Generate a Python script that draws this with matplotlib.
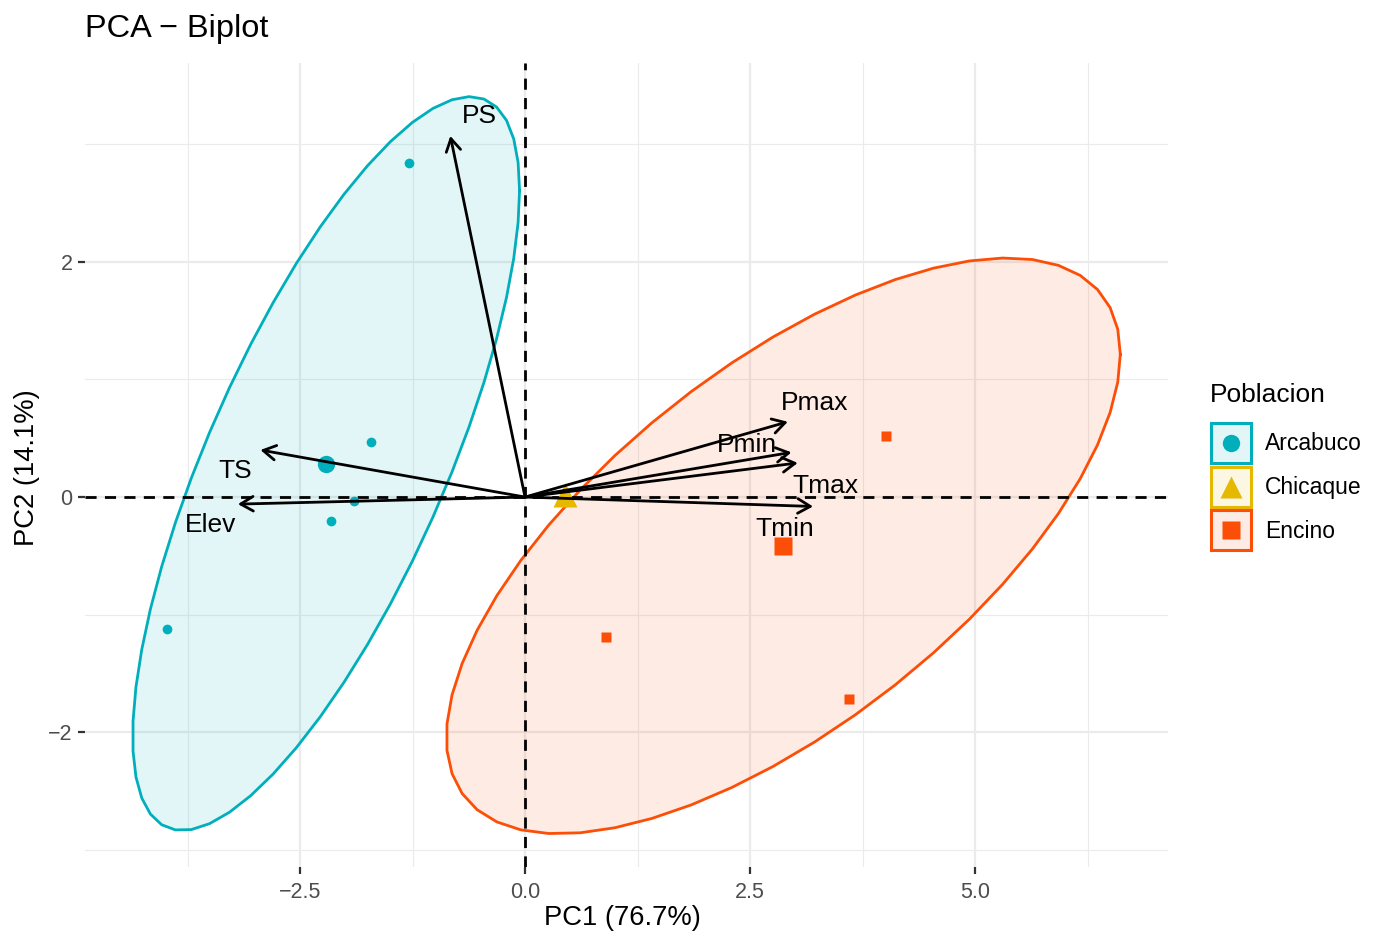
import numpy as np
import matplotlib
matplotlib.use("Agg")
import matplotlib.pyplot as plt
from matplotlib.patches import FancyArrowPatch, Rectangle

plt.rcParams['font.family'] = ['Liberation Sans', 'DejaVu Sans']

# ---------------- data ----------------
groups = ["Arcabuco", "Chicaque", "Encino"]
group_colors = ["#00AFBB", "#E7B800", "#FC4E07"]
group_markers = ["o", "^", "s"]

arc_pc1 = [-1.29, -1.71, -1.90, -2.16, -3.98]
arc_pc2 = [2.84, 0.47, -0.03, -0.20, -1.12]
chi_pc1 = [0.44]
chi_pc2 = [0.02]
enc_pc1 = [0.90, 3.60, 4.01]
enc_pc2 = [-1.19, -1.72, 0.52]

mean_pc1 = [-2.21, 0.44, 2.87]
mean_pc2 = [0.285, 0.02, -0.415]

# ellipse covariance (scaled, 95% normal ellipse) per group
arc_cov = [[4.62, 4.99], [4.99, 9.73]]
enc_cov = [[14.02, 6.10], [6.10, 5.99]]

var_names = ["PS", "TS", "Elev", "Pmax", "Pmin", "Tmax", "Tmin"]
var_pc1 = [-0.83, -2.94, -3.19, 2.92, 2.96, 3.03, 3.20]
var_pc2 = [3.07, 0.40, -0.06, 0.64, 0.38, 0.29, -0.08]
label_pc1 = [-0.51, -3.22, -3.49, 3.22, 2.47, 3.34, 2.89]
label_pc2 = [3.24, 0.22, -0.24, 0.80, 0.44, 0.09, -0.27]

x_ticks = [-2.5, 0.0, 2.5, 5.0]
x_ticklabels = ["\u22122.5", "0.0", "2.5", "5.0"]
y_ticks = [-2, 0, 2]
y_ticklabels = ["\u22122", "0", "2"]

# ---------------- figure ----------------
W, H = 1377, 933
fig = plt.figure(figsize=(W / 100, H / 100), dpi=100)
ax = fig.add_axes([85 / W, 1 - 867 / H, (1168 - 85) / W, (867 - 63) / H])

ax.set_xlim(-4.889, 7.144)
ax.set_ylim(-3.145, 3.69)

for s in ax.spines.values():
    s.set_visible(False)

ax.set_xticks(x_ticks)
ax.set_xticklabels(x_ticklabels)
ax.set_yticks(y_ticks)
ax.set_yticklabels(y_ticklabels)
ax.set_xticks([-3.75, -1.25, 1.25, 3.75, 6.25], minor=True)
ax.set_yticks([-3, -1, 1, 3], minor=True)
ax.tick_params(which="major", length=5, width=1.6, color="#333333",
               labelsize=15.5, labelcolor="#4D4D4D")
ax.tick_params(axis="x", which="major", pad=6)
ax.tick_params(axis="y", which="major", pad=4)
ax.tick_params(which="minor", length=0)
ax.grid(which="major", color="#EBEBEB", lw=1.6, zorder=0)
ax.grid(which="minor", color="#EBEBEB", lw=0.8, zorder=0)
ax.set_axisbelow(True)

# ellipses
t = np.linspace(0, 2 * np.pi, 52)
circ = np.vstack([np.cos(t), np.sin(t)])
for cov, gi in [(arc_cov, 0), (enc_cov, 2)]:
    L = np.linalg.cholesky(np.array(cov))
    pts = L @ circ
    ex = pts[0] + mean_pc1[gi]
    ey = pts[1] + mean_pc2[gi]
    ax.fill(ex, ey, color=group_colors[gi], alpha=0.11, lw=0, zorder=1)
    ax.plot(ex, ey, color=group_colors[gi], lw=2.0, zorder=2)

# reference lines
ax.axhline(0, color="black", lw=2.0, ls=(0, (4, 3)), zorder=3)
ax.axvline(0, color="black", lw=2.0, ls=(0, (4, 3)), zorder=3)

# individuals
ind = [(arc_pc1, arc_pc2), (chi_pc1, chi_pc2), (enc_pc1, enc_pc2)]
small_sizes = [7.0, 7.0, 7.2]
big_sizes = [12.5, 17.0, 12.5]
for gi, (px, py) in enumerate(ind):
    ax.plot(px, py, ls="none", marker=group_markers[gi], ms=small_sizes[gi],
            color=group_colors[gi], mec="none", zorder=4)
for gi in range(3):
    ax.plot([mean_pc1[gi]], [mean_pc2[gi]], ls="none", marker=group_markers[gi],
            ms=big_sizes[gi], color=group_colors[gi], mec="none", zorder=5)

# variable arrows
for name, vx, vy, lx, ly in zip(var_names, var_pc1, var_pc2, label_pc1, label_pc2):
    arr = FancyArrowPatch((0, 0), (vx, vy),
                          arrowstyle="->,head_length=0.6,head_width=0.35",
                          mutation_scale=15, lw=2.0, color="black",
                          shrinkA=0, shrinkB=0, zorder=6)
    ax.add_patch(arr)
    ax.text(lx, ly, name, ha="center", va="center", fontsize=19,
            color="black", zorder=7)

fig.text(622 / W, 1 - 918 / H, "PC1 (76.7%)", fontsize=19.7,
         ha="center", va="center")
fig.text(27 / W, 1 - 468 / H, "PC2 (14.1%)", fontsize=19.7,
         ha="center", va="center", rotation=90)

fig.text(85 / W, 1 - 29 / H, "PCA \u2212 Biplot", fontsize=23.4,
         ha="left", va="center")

# ---------------- legend (overlay) ----------------
lax = fig.add_axes([0, 0, 1, 1])
lax.set_xlim(0, W)
lax.set_ylim(H, 0)
lax.axis("off")
lax.text(1210, 395, "Poblacion", fontsize=19, ha="left", va="center")
key_tops = [423, 466.5, 510]
key_size = 40
for gi, g in enumerate(groups):
    y0 = key_tops[gi]
    lax.add_patch(Rectangle((1211, y0), key_size, key_size, facecolor=group_colors[gi],
                            alpha=0.11, lw=0))
    lax.add_patch(Rectangle((1211, y0), key_size, key_size, facecolor="none",
                            edgecolor=group_colors[gi], lw=2.2))
    lax.plot([1231], [y0 + key_size / 2], marker=group_markers[gi],
             ms=[12.5, 16.0, 12.5][gi], color=group_colors[gi], mec="none")
    lax.text(1265, y0 + key_size / 2 + 1, g, fontsize=16.5, ha="left", va="center")

fig.savefig("out.png", dpi=100)
